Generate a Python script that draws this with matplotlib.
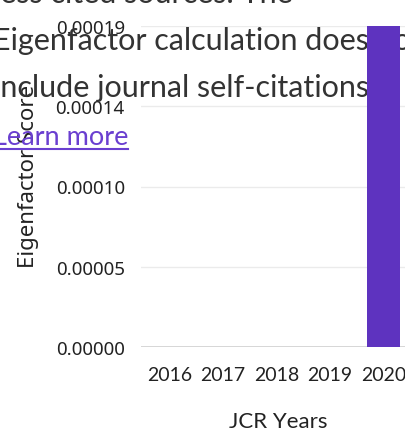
import matplotlib.pyplot as plt
from matplotlib.lines import Line2D

# data
years = ['2016', '2017', '2018', '2019', '2020']
scores = [0, 0, 0, 0, 0.0002]
ytick_values = [0, 0.00005, 0.0001, 0.00015, 0.0002]
ytick_labels = ['0.00000', '0.00005', '0.00010', '0.00014', '0.00019']
note_lines = ['less cited sources. The',
              'Eigenfactor calculation does not',
              'include journal self-citations']

plt.rcParams['font.family'] = ['Lato', 'DejaVu Sans']

W, H = 406, 431
fig = plt.figure(figsize=(W / 100, H / 100), dpi=100)
fig.patch.set_facecolor('white')

# axes runs a bit past the right edge, as in the reference
left, right, bottom, top = 141.5, 415.5, 348, 27
ax = fig.add_axes([left / W, 1 - bottom / H, (right - left) / W, (bottom - top) / H])

x = range(len(years))
ax.bar(x, scores, width=0.62, color='#5e33bf', zorder=3)
ax.set_xlim(-0.52, 4.6)
ax.set_ylim(0, max(scores))
ax.set_xticks(list(x))
ax.set_xticklabels(years, fontsize=14)
ax.set_yticks(ytick_values)
ax.set_yticklabels(ytick_labels, fontsize=13.5, family='Noto Sans')

ax.set_axisbelow(True)
ax.grid(axis='y', color='#ebebeb', linewidth=1)
ax.grid(axis='x', visible=False)
for s in ax.spines.values():
    s.set_visible(False)
ax.axhline(0, color='#d0d0d0', linewidth=1.2, zorder=1)
ax.tick_params(axis='both', length=0, colors='#222222')
ax.tick_params(axis='y', pad=12)
ax.tick_params(axis='x', pad=14)

ax.set_xlabel('JCR Years', fontsize=16, color='#222222', labelpad=20)
ax.set_ylabel('Eigenfactor Score', fontsize=16, color='#222222',
              family='Noto Sans')
ax.yaxis.set_label_coords(-(left - 39) / (right - left), (bottom - 176) / (bottom - top))

# tooltip text that sits over the chart (bar drawn on top of it)
x0 = -7 / W
baselines = [3, 50, 97]
for line, yb in zip(note_lines, baselines):
    ax.text(x0, 1 - yb / H, line, transform=fig.transFigure, fontsize=22,
            color='#333333', va='baseline', ha='left', zorder=2, clip_on=False)
link = ax.text(x0, 1 - 145 / H, 'Learn more', transform=fig.transFigure,
               fontsize=19.5, color='#6a3fd0', va='baseline', ha='left',
               zorder=2, clip_on=False)

fig.canvas.draw()
bb = link.get_window_extent()
uy = 1 - 150 / H
fig.add_artist(Line2D([0, bb.x1 / W], [uy, uy], color='#6a3fd0',
                      linewidth=1.5, zorder=2))

fig.savefig('out.png', dpi=100)
